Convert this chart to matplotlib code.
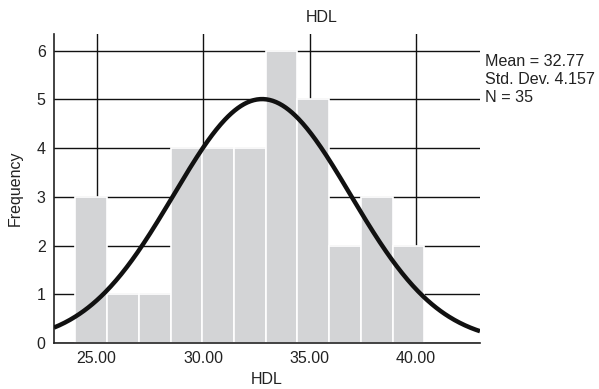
import numpy as np
import matplotlib
matplotlib.use("Agg")
import matplotlib.pyplot as plt

plt.rcParams['font.family'] = ['Liberation Sans', 'DejaVu Sans']

# histogram of HDL values, 11 bins
bin_start = 24.0
bin_width = 1.49
counts = [3, 1, 1, 4, 4, 4, 6, 5, 2, 3, 2]
mean = 32.77
std = 4.157
n = 35
xticks = [25, 30, 35, 40]
xticklabels = ['25.00', '30.00', '35.00', '40.00']
yticks = [0, 1, 2, 3, 4, 5, 6]

fig = plt.figure(figsize=(5.99, 3.89), dpi=100)
ax = fig.add_axes([54/599, 1 - 343/389, (480-54)/599, (343-34)/389])

edges = bin_start + bin_width * np.arange(len(counts))
ax.bar(edges, counts, width=bin_width, align='edge', color='#d3d4d6',
       edgecolor='white', linewidth=1.2, zorder=2)

# fitted normal curve
xs = np.linspace(23, 43, 400)
ys = n * bin_width / (std * np.sqrt(2*np.pi)) * np.exp(-0.5*((xs-mean)/std)**2)
ax.plot(xs, ys, color='#111111', linewidth=3.2, zorder=3, solid_capstyle='butt')

ax.set_xlim(23, 43)
ax.set_ylim(0, 6.34)
ax.set_xticks(xticks)
ax.set_xticklabels(xticklabels)
ax.set_yticks(yticks)
ax.tick_params(length=0, labelsize=11.5, colors='#222222', pad=6)
ax.grid(True, color='#111111', linewidth=1.0, zorder=1)
ax.set_axisbelow(True)
for s in ['top', 'right']:
    ax.spines[s].set_visible(False)
for s in ['left', 'bottom']:
    ax.spines[s].set_color('#222222')
    ax.spines[s].set_linewidth(1.2)

ax.set_xlabel('HDL', fontsize=11.5, color='#222222', labelpad=4)
ax.set_ylabel('Frequency', fontsize=11.5, color='#222222', labelpad=10)
fig.text(322/599, 1 - 18/389, 'HDL', fontsize=11.5, ha='center', va='center', color='#222222')

fig.text(485/599, 1 - 61/389, 'Mean = 32.77', fontsize=11.6, va='center', color='#222222')
fig.text(485/599, 1 - 79/389, 'Std. Dev. 4.157', fontsize=11.6, va='center', color='#222222')
fig.text(485/599, 1 - 97/389, 'N = 35', fontsize=11.6, va='center', color='#222222')

fig.savefig('out.png', dpi=100)
